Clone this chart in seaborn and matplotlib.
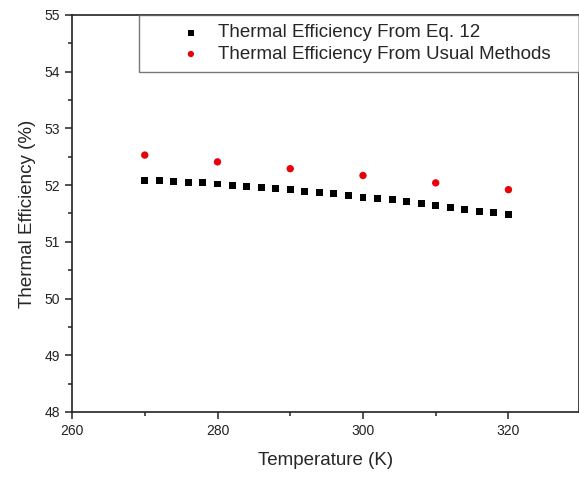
import numpy as np
import pandas as pd
import matplotlib
matplotlib.use("Agg")
import matplotlib.pyplot as plt
import seaborn as sns
from matplotlib.ticker import MultipleLocator

# data
temp_eq12 = list(range(270, 321, 2))
eff_eq12 = [52.09, 52.08, 52.07, 52.05, 52.04, 52.02, 52.00, 51.98, 51.96,
            51.94, 51.92, 51.89, 51.87, 51.85, 51.81, 51.79, 51.76, 51.74,
            51.71, 51.68, 51.64, 51.60, 51.57, 51.54, 51.51, 51.48]
temp_usual = [270, 280, 290, 300, 310, 320]
eff_usual = [52.53, 52.41, 52.29, 52.17, 52.04, 51.92]

label_eq12 = "Thermal Efficiency From Eq. 12"
label_usual = "Thermal Efficiency From Usual Methods"

df_eq12 = pd.DataFrame({"T": temp_eq12, "eff": eff_eq12})
df_usual = pd.DataFrame({"T": temp_usual, "eff": eff_usual})

sns.set_style("ticks")
plt.rcParams["font.family"] = ["Liberation Sans", "DejaVu Sans"]

fig = plt.figure(figsize=(5.79, 4.79), dpi=100)
ax = fig.add_axes([0.1244, 0.1399, 0.8756, 0.8288])

sns.scatterplot(data=df_eq12, x="T", y="eff", marker="s", color="black",
                s=25, edgecolor="none", label=label_eq12, ax=ax)
sns.scatterplot(data=df_usual, x="T", y="eff", marker="o", color="#e8000b",
                s=28, edgecolor="none", label=label_usual, ax=ax)

ax.set_xlim(260, 329.7)
ax.set_ylim(48, 55)
ax.xaxis.set_major_locator(MultipleLocator(20))
ax.xaxis.set_minor_locator(MultipleLocator(10))
ax.yaxis.set_major_locator(MultipleLocator(1))
ax.yaxis.set_minor_locator(MultipleLocator(0.5))
ax.tick_params(which="major", length=5, width=1.1, labelsize=10,
               direction="out", colors="#222222")
ax.tick_params(which="minor", length=3, width=1.1, direction="out",
               colors="#222222")

for sp in ax.spines.values():
    sp.set_linewidth(1.2)
    sp.set_color("#222222")

ax.set_xlabel("Temperature (K)", fontsize=13.5, labelpad=10)
ax.set_ylabel("Thermal Efficiency (%)", fontsize=13.5, labelpad=6)

# legend box stretched from x=270-ish to the right edge, like the original
leg = ax.legend(loc="upper right", bbox_to_anchor=(0.132, 0.5, 0.868, 0.5),
                mode="expand", borderaxespad=0,
                fontsize=13.5, frameon=True, fancybox=False, markerscale=0.85,
                handlelength=4.54, handletextpad=-0.83, borderpad=0.5,
                labelspacing=0.23)
leg.get_frame().set_edgecolor("#555555")
leg.get_frame().set_linewidth(1.0)

fig.savefig("out.png", dpi=100)
